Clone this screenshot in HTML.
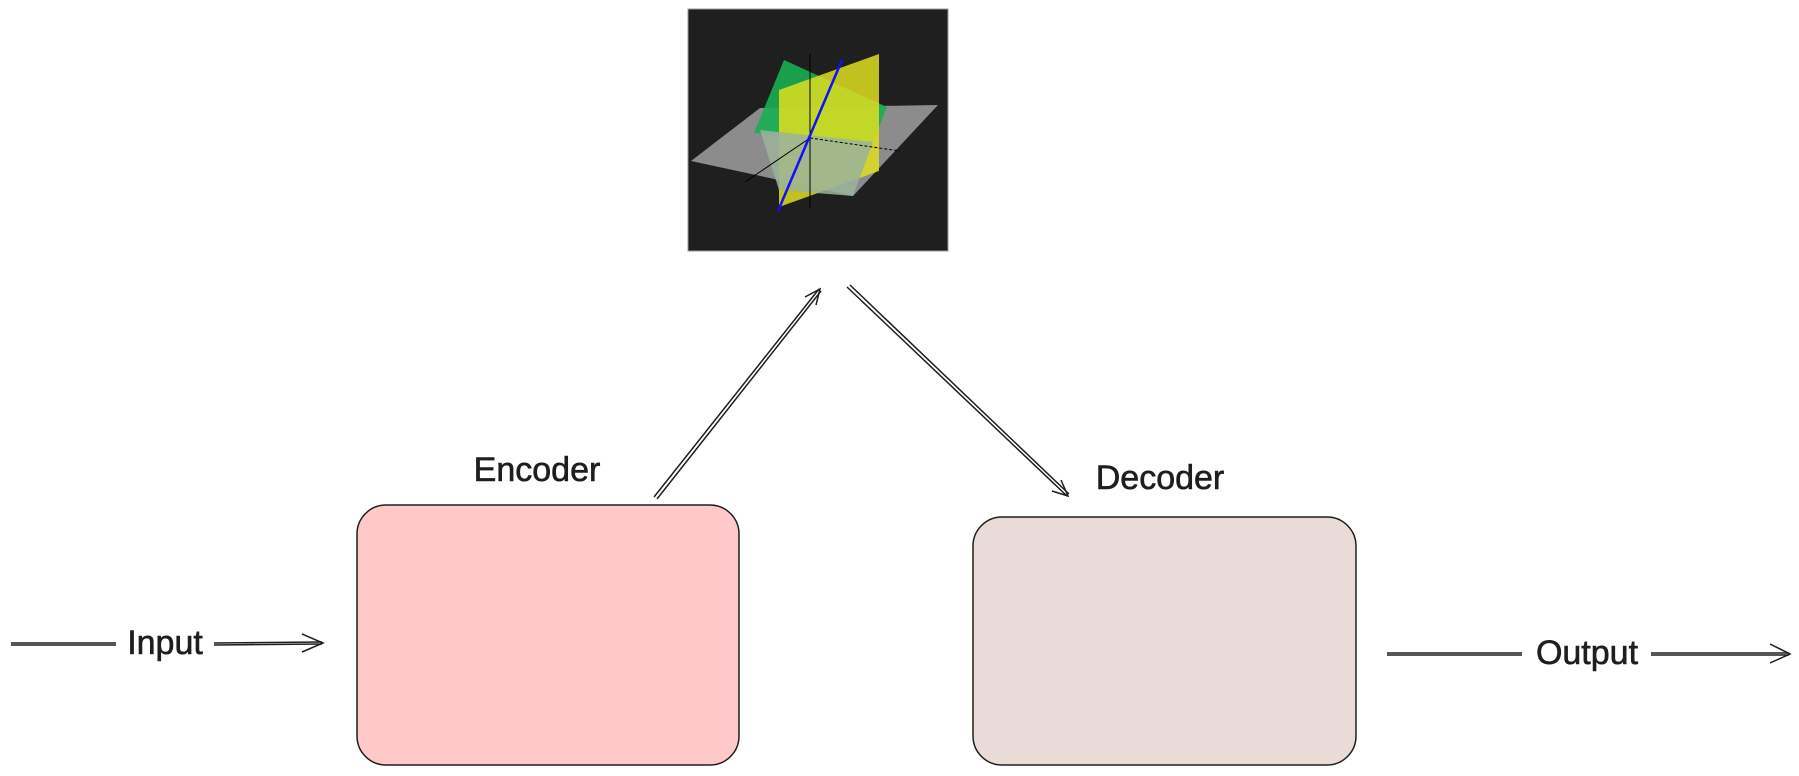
<!DOCTYPE html>
<html><head><meta charset="utf-8"><style>
html,body{margin:0;padding:0;background:#fff;width:1799px;height:776px;overflow:hidden}
</style></head><body>
<svg width="1799" height="776" viewBox="0 0 1799 776" xmlns="http://www.w3.org/2000/svg">
<rect x="688" y="9" width="260" height="242" fill="#1f1f1f" stroke="#999" stroke-width="1"/>
<polygon points="760,108 938,105 853,196 691,161" fill="#8c8c8c"/>
<polygon points="784,60 887,107 873,142 754,133" fill="#1aae52" opacity="0.9"/>
<polygon points="779,90 879,54 879,171 779,207" fill="#dede20" opacity="0.85"/>
<polygon points="760,130 873,142 853,196 779,190" fill="#9ab49a" opacity="0.85"/>
<line x1="810" y1="54" x2="810" y2="208" stroke="#000" stroke-width="1"/>
<line x1="745" y1="182" x2="810" y2="138" stroke="#000" stroke-width="1"/>
<line x1="810" y1="138" x2="900" y2="151" stroke="#000" stroke-width="1" stroke-dasharray="3,2"/>
<line x1="842" y1="60" x2="778" y2="211" stroke="#1010ff" stroke-width="2.5"/>
<g fill="none" stroke="#1e1e1e" stroke-width="1.5">
<rect x="357" y="505" width="382" height="260" rx="29" fill="#ffc9c9"/>
<rect x="973" y="517" width="383" height="248" rx="29" fill="#e9dcd6"/>
<path d="M654,497 L819,289 M657,499 L821,291"/>
<path d="M805,297 L820,289 L816,305"/>
<path d="M847,287 L1067,496 M850,285 L1069,494"/>
<path d="M1052,491 L1068,496 L1061,480"/>
<path d="M11,643 L116,643 M11,645 L116,645 M214,643 L322,642 M214,645 L322,644"/>
<path d="M302,634 L323,643 L302,652"/>
<path d="M1387,653 L1522,653 M1387,655 L1522,655 M1651,653 L1789,653 M1651,655 L1789,655"/>
<path d="M1770,644 L1790,654 L1770,663"/>
</g>
<g font-family="'Liberation Sans',sans-serif" font-size="34" fill="#1e1e1e" stroke="#1e1e1e" stroke-width="0.6" text-anchor="middle">
<text x="537" y="481">Encoder</text>
<text x="1160" y="489">Decoder</text>
<text x="165" y="654">Input</text>
<text x="1587" y="664">Output</text>
</g>
</svg>
</body></html>
